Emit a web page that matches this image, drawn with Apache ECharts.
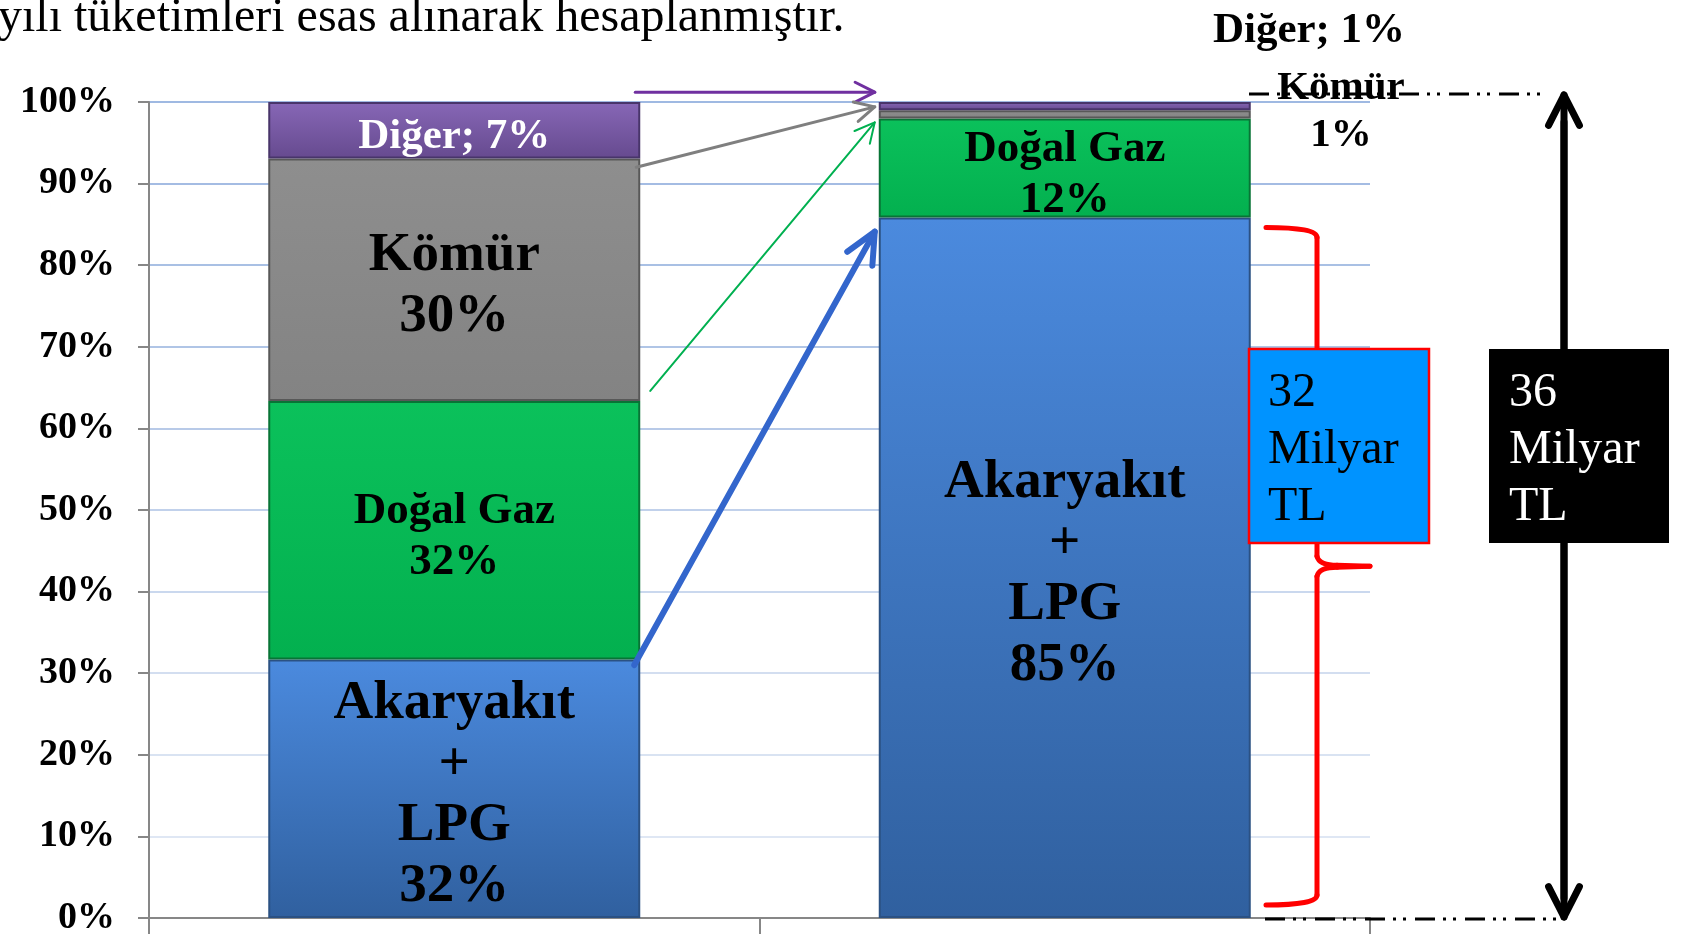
<!DOCTYPE html>
<html>
<head>
<meta charset="utf-8">
<script src="https://cdn.jsdelivr.net/npm/echarts@6/dist/echarts.min.js"></script>
<style>
  html, body { margin: 0; padding: 0; background: #fff; }
  #main { width: 1681px; height: 944px; }
</style>
</head>
<body>
<div id="main"></div>
<script>
  // veriler
  const categories = ["Mevcut", "Hedef"];
  const seriesNames = ["Akaryakıt + LPG", "Doğal Gaz", "Kömür", "Diğer"];
  const labelNames = ["Akaryakıt\n+\nLPG", "Doğal Gaz", "Kömür", "Diğer; "];
  const akaryakitLpg = [32, 85];
  const dogalGaz = [32, 12];
  const komur = [30, 1];
  const diger = [7, 1];
  const yTickLabels = ["0%", "10%", "20%", "30%", "40%", "50%", "60%", "70%", "80%", "90%", "100%"];
  const milyarTL = [32, 36];

  const raw = [akaryakitLpg, dogalGaz, komur, diger];
  const totals = categories.map((c, i) => raw.reduce((s, arr) => s + arr[i], 0));

  const FONT = "'Liberation Serif', 'Times New Roman', serif";
  const BAR_W = 372;

  const fills = [
    ["#4b8ade", "#30609f"],
    ["#0bc15b", "#03b04f"],
    ["#8e8e8e", "#838383"],
    ["#8767b6", "#664a8f"]
  ];
  const borders = ["#2b5183", "#087436", "#585858", "#48356a"];
  // her seri için etiket boyutu
  const labelStyle = [
    { fontSize: 55, lineHeight: 61, color: "#000" },
    { fontSize: 45, lineHeight: 51, color: "#000" },
    { fontSize: 55, lineHeight: 61, color: "#000" },
    { fontSize: 43, lineHeight: 48, color: "#fff" }
  ];

  let chart = echarts.init(document.getElementById("main"));

  let series = raw.map((arr, s) => ({
    name: seriesNames[s],
    type: "bar",
    stack: "toplam",
    barWidth: BAR_W,
    itemStyle: {
      color: {
        type: "linear", x: 0, y: 0, x2: 0, y2: 1,
        colorStops: [{ offset: 0, color: fills[s][0] }, { offset: 1, color: fills[s][1] }]
      },
      borderColor: borders[s],
      borderWidth: 2
    },
    label: {
      show: true,
      position: "inside",
      offset: [0, 7],
      fontFamily: FONT,
      fontWeight: "bold",
      fontSize: labelStyle[s].fontSize,
      lineHeight: labelStyle[s].lineHeight,
      color: labelStyle[s].color,
      formatter: (p) => labelNames[s] + (s === 3 ? "" : "\n") + arr[p.dataIndex] + "%"
    },
    data: arr.map((v, i) => {
      let item = { value: (v / totals[i]) * 100 };
      // sağdaki çubukta küçük dilimlerin etiketi dışarıda
      if (i === 1 && s >= 2) item.label = { show: false };
      return item;
    })
  }));

  let option = {
    animation: false,
    grid: { left: 149, right: 311, top: 102, bottom: 26 },
    xAxis: {
      type: "category",
      data: categories,
      axisLabel: { show: false },
      axisLine: { lineStyle: { color: "#878787", width: 2 } },
      axisTick: { show: true, length: 16, lineStyle: { color: "#878787", width: 2 } }
    },
    yAxis: {
      type: "value",
      min: 0,
      max: 100,
      interval: 10,
      axisLabel: {
        formatter: (v) => yTickLabels[Math.round(v / 10)],
        fontFamily: FONT,
        fontWeight: "bold",
        fontSize: 38,
        color: "#000",
        margin: 34
      },
      axisLine: { show: true, lineStyle: { color: "#878787", width: 2 } },
      axisTick: { show: true, length: 11, lineStyle: { color: "#878787", width: 2 } },
      splitLine: {
        lineStyle: {
          width: 2,
          color: ["#dfe7f4", "#dfe7f4", "#d9e3f2", "#d3def0", "#cad8ee", "#c1d1eb",
                  "#b8cae8", "#b0c5e6", "#a9c0e4", "#a4bce3", "#9fb9e2"]
        }
      }
    },
    series: series
  };

  chart.setOption(option);

  // eksen üzerinden piksel konumu
  function px(cat, val) {
    return chart.convertToPixel({ gridIndex: 0 }, [cat, val]);
  }

  function arrow(p1, p2, color, width, headLen, angle) {
    let dx = p2[0] - p1[0], dy = p2[1] - p1[1];
    let len = Math.sqrt(dx * dx + dy * dy);
    let bx = -dx / len, by = -dy / len;
    let a = angle * Math.PI / 180;
    let arm = (sign) => [
      p2[0] + headLen * (bx * Math.cos(a) - sign * by * Math.sin(a)),
      p2[1] + headLen * (sign * bx * Math.sin(a) + by * Math.cos(a))
    ];
    let style = { stroke: color, lineWidth: width, lineCap: "round", lineJoin: "round", fill: null };
    return [
      { type: "line", z: 100, shape: { x1: p1[0], y1: p1[1], x2: p2[0], y2: p2[1] }, style: style },
      { type: "polyline", z: 100, shape: { points: [arm(1), p2, arm(-1)] }, style: style }
    ];
  }

  let leftEdge = px(0, 0)[0] + BAR_W / 2;
  let rightEdge = px(1, 0)[0] - BAR_W / 2;
  let y0 = px(0, 0)[1];
  let y100 = px(0, 100)[1];
  let blueTop = px(1, (akaryakitLpg[1] / totals[1]) * 100)[1];

  let g = [];
  g = g.concat(arrow([leftEdge - 5, px(0, 101.2)[1]], [rightEdge - 4, px(1, 101.2)[1]], "#7030a0", 3, 22, 27));
  g = g.concat(arrow([leftEdge - 4, px(0, 92.0)[1]], [rightEdge - 4, px(1, 99.4)[1]], "#7f7f7f", 3, 22, 27));
  g = g.concat(arrow([leftEdge + 10, px(0, 64.6)[1]], [rightEdge - 4, px(1, 97.5)[1]], "#00b050", 2, 22, 27));
  g = g.concat(arrow([leftEdge - 6, px(0, 31.0)[1]], [rightEdge - 4, px(1, 84.1)[1]], "#3366cc", 6, 34, 25));

  // siyah çift yönlü ok
  let ax = 1564;
  g = g.concat(arrow([ax, y0 - 20], [ax, y100 - 7], "#000", 7, 34, 27));
  g = g.concat(arrow([ax, y100 + 20], [ax, y0 - 1], "#000", 7, 34, 27));

  // kesikli çizgiler
  let dashStyle = { stroke: "#000", lineWidth: 3, lineDash: [20, 8, 3, 7, 3, 9], fill: null };
  g.push({ type: "line", z: 90, shape: { x1: 1249, y1: y100 - 8, x2: 1546, y2: y100 - 8 }, style: dashStyle });
  g.push({ type: "line", z: 90, shape: { x1: 1265, y1: y0 + 1, x2: 1560, y2: y0 + 1 }, style: dashStyle });

  // kırmızı küme parantezi
  let bt = blueTop + 10, bb = y0 - 13, bm = (bt + bb) / 2;
  let bx1 = 1266, bx2 = 1317, bx3 = 1370;
  let braceStyle = { stroke: "#ff0000", lineWidth: 5, fill: null, lineCap: "round", lineJoin: "round" };
  let curve = (x1, y1, cx, cy, x2, y2) => ({
    type: "bezierCurve", z: 100,
    shape: { x1: x1, y1: y1, x2: x2, y2: y2, cpx1: cx, cpy1: cy },
    style: braceStyle
  });
  let seg = (x1, y1, x2, y2) => ({
    type: "line", z: 100, shape: { x1: x1, y1: y1, x2: x2, y2: y2 }, style: braceStyle
  });
  g.push(curve(bx1, bt, bx2, bt, bx2, bt + 10));
  g.push(seg(bx2, bt + 10, bx2, bm - 10));
  g.push(curve(bx2, bm - 10, bx2 + 2, bm - 1, bx2 + 20, bm - 1));
  g.push(seg(bx2 + 20, bm - 1, bx3, bm));
  g.push(seg(bx3, bm, bx2 + 20, bm + 1));
  g.push(curve(bx2 + 20, bm + 1, bx2 + 2, bm + 1, bx2, bm + 10));
  g.push(seg(bx2, bm + 10, bx2, bb - 10));
  g.push(curve(bx2, bb - 10, bx2, bb, bx1, bb));

  // kutular
  g.push({ type: "rect", z: 110, shape: { x: 1249, y: 349, width: 180, height: 194 },
           style: { fill: "#0093ff", stroke: "#ff0000", lineWidth: 2.5 } });
  g.push({ type: "text", z: 111, x: 1268, y: 365,
           style: { text: milyarTL[0] + "\nMilyar\nTL", font: "48px " + FONT, lineHeight: 57,
                    fill: "#000", align: "left", verticalAlign: "top" } });
  g.push({ type: "rect", z: 110, shape: { x: 1489, y: 349, width: 180, height: 194 },
           style: { fill: "#000" } });
  g.push({ type: "text", z: 111, x: 1509, y: 365,
           style: { text: milyarTL[1] + "\nMilyar\nTL", font: "48px " + FONT, lineHeight: 57,
                    fill: "#fff", align: "left", verticalAlign: "top" } });

  // sağ çubuğun dış etiketleri
  g.push({ type: "text", z: 95, x: 1309, y: 31,
           style: { text: labelNames[3] + diger[1] + "%", font: "bold 43px " + FONT,
                    fill: "#000", align: "center", verticalAlign: "middle" } });
  g.push({ type: "text", z: 85, x: 1341, y: 112,
           style: { text: labelNames[2] + "\n" + komur[1] + "%", font: "bold 41px " + FONT, lineHeight: 47,
                    fill: "#000", align: "center", verticalAlign: "middle" } });

  // üstte kesilmiş metin
  g.push({ type: "text", z: 95, x: -2, y: 18,
           style: { text: "yılı tüketimleri esas alınarak hesaplanmıştır.", font: "48px " + FONT,
                    fill: "#000", align: "left", verticalAlign: "middle" } });

  chart.setOption({ graphic: { elements: g } });

  window.addEventListener("resize", () => {
    chart.resize();
  });
</script>
</body>
</html>
